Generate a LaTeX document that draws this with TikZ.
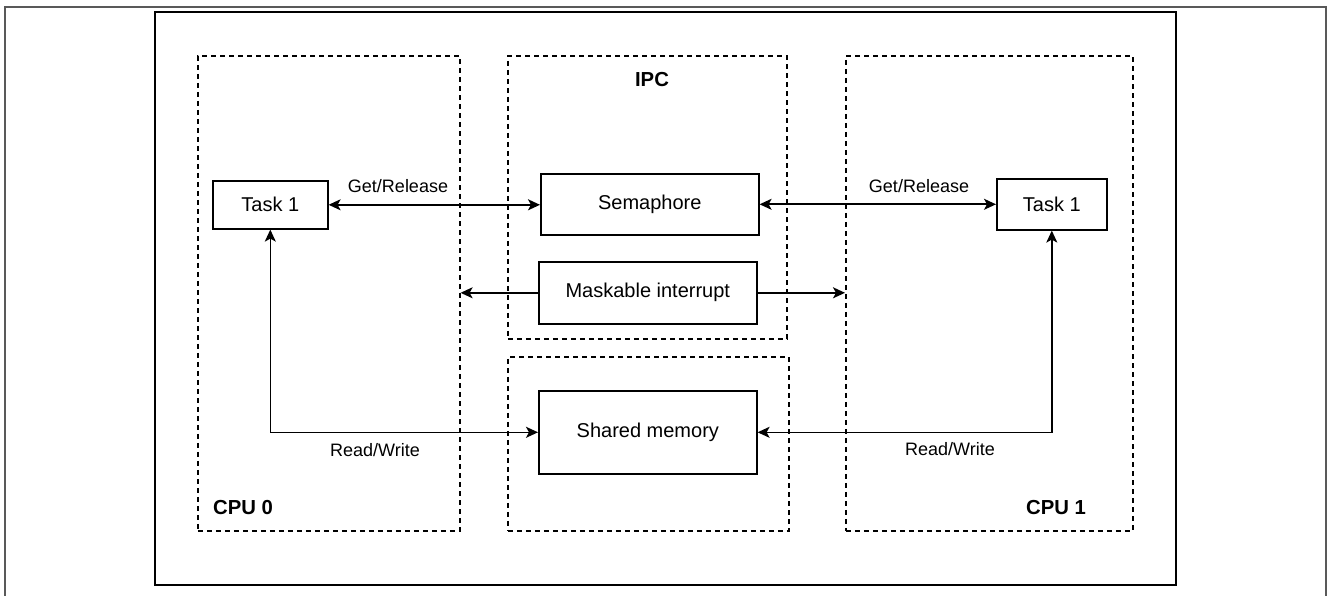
\documentclass[tikz,border=0pt]{standalone}
\usepackage{fontspec}
\setmainfont{Liberation Sans}
\usetikzlibrary{arrows.meta,positioning}
\tikzset{
  box/.style={draw, line width=1.6pt, inner sep=0pt, anchor=north west, font=\fontsize{20}{24}\selectfont},
  dbox/.style={draw, line width=1.6pt, dash pattern=on 5pt off 4pt, inner sep=0pt, anchor=north west},
  conn/.style={line width=1.6pt, {Stealth[length=12pt,width=11pt,inset=3pt]}-{Stealth[length=12pt,width=11pt,inset=3pt]}},
  conr/.style={line width=1.6pt, -{Stealth[length=12pt,width=11pt,inset=3pt]}},
  lbl/.style={font=\fontsize{18}{22}\selectfont, inner sep=0pt},
  title/.style={font=\bfseries\fontsize{20.3}{24}\selectfont, inner sep=0pt}
}
\begin{document}
\begin{tikzpicture}[x=1pt,y=-1pt]
\useasboundingbox (0,0) rectangle (1327,596);
% frames
\draw[line width=1.5pt, black!65] (5,7) rectangle (1326,610);
\draw[line width=2pt] (155,12) rectangle (1176,585);
% dashed containers
\node[dbox, minimum width=262pt, minimum height=475pt] (cpu0) at (197,55) {};
\node[dbox, minimum width=279pt, minimum height=283pt] (ipc) at (507,55) {};
\node[dbox, minimum width=281pt, minimum height=174pt] (shmbox) at (507,356) {};
\node[dbox, minimum width=287pt, minimum height=475pt] (cpu1) at (845,55) {};
% boxes
\node[box, minimum width=115pt, minimum height=48pt] (task0) at (212,180) {Task 1};
\node[box, minimum width=218pt, minimum height=61pt] (sem) at (540,173) {Semaphore};
\node[box, minimum width=218pt, minimum height=62pt] (mask) at (538,261) {Maskable interrupt};
\node[box, minimum width=218pt, minimum height=83pt] (shm) at (538,390) {Shared memory};
\node[box, minimum width=110pt, minimum height=51pt] (task1) at (996,178) {Task 1};
% titles
\node[title] (tipc) at (652,80) {IPC};
\node[title] (tcpu0) at (243,508) {CPU 0};
\node[title] (tcpu1) at (1056,508) {CPU 1};
% connectors
\draw[conn] (task0.east) -- (sem.west |- task0.east);
\draw[conn] (sem.east) -- (task1.west |- sem.east);
\draw[conr] (mask.west) -- (cpu0.east |- mask.west);
\draw[conr] (mask.east) -- (cpu1.west |- mask.east);
\draw[conn] (task0.south) |- (shm.west);
\draw[conn] (shm.east) -| (task1.south);
% labels
\node[lbl] (l1) at (398,186) {Get/Release};
\node[lbl] (l2) at (919,186) {Get/Release};
\node[lbl] (l3) at (375,450) {Read/Write};
\node[lbl] (l4) at (950,449) {Read/Write};
\end{tikzpicture}
\end{document}
